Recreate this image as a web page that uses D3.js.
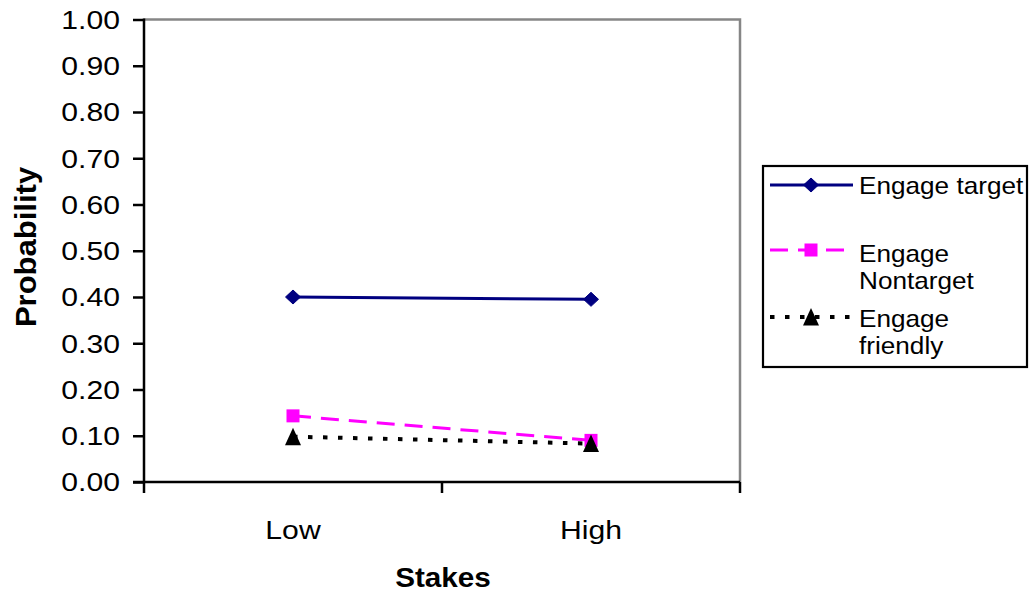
<!DOCTYPE html>
<html><head><meta charset="utf-8">
<script src="https://cdn.jsdelivr.net/npm/d3@7"></script>
<style>
html,body{margin:0;padding:0;background:#fff;}
svg{display:block;font-family:"Liberation Sans",Arial,sans-serif;}
</style></head>
<body>
<svg id="chart" width="1029" height="599"></svg>
<script>
const categories = ["Low", "High"];
const engageTarget = [0.40, 0.395];
const engageNontarget = [0.143, 0.090];
const engageFriendly = [0.098, 0.083];
const yTicks = [0,0.1,0.2,0.3,0.4,0.5,0.6,0.7,0.8,0.9,1.0];
const seriesNames = [["Engage target"], ["Engage", "Nontarget"], ["Engage", "friendly"]];

const svg = d3.select("#chart");
const L = 144, R = 740, T = 19.5, B = 482;
const x = d3.scalePoint().domain(categories).range([L, R]).padding(0.5);
const y = d3.scaleLinear().domain([0, 1]).range([B, T]);
const SX = 1.16;

// top/right frame (gray)
svg.append("path").attr("d", `M${L},${T}H${R}V${B}`).attr("fill","none")
  .attr("stroke","#868686").attr("stroke-width",2.5);

// Y axis
const yAxis = d3.axisLeft(y).tickValues(yTicks).tickFormat(d3.format(".2f")).tickSize(11).tickPadding(13);
const gy = svg.append("g").attr("transform", `translate(${L},0)`).call(yAxis);
gy.select(".domain").attr("stroke","#000").attr("stroke-width",2.5).attr("d", `M0,${T-1}V${B+1}`);
gy.selectAll(".tick line").attr("stroke","#000").attr("stroke-width",2.5);
gy.selectAll(".tick text").each(function(){
  const t = d3.select(this); const xx = +t.attr("x");
  t.attr("x",0).attr("dy","0.34em").attr("transform",`translate(${xx},0) scale(${SX},1)`)
   .attr("font-size",26).attr("font-family","Liberation Sans, Arial, sans-serif").attr("fill","#000");
});

// X axis
const step = x.step();
const gx = svg.append("g");
gx.append("line").attr("x1",L-11).attr("x2",R).attr("y1",B).attr("y2",B).attr("stroke","#000").attr("stroke-width",2.5);
const bounds = [x(categories[0]) - step/2].concat(categories.map(c => x(c) + step/2));
gx.selectAll(".xt").data(bounds).enter().append("line")
  .attr("x1",d=>d).attr("x2",d=>d).attr("y1",B).attr("y2",B+11).attr("stroke","#000").attr("stroke-width",2.5);
gx.selectAll(".xl").data(categories).enter().append("text")
  .attr("text-anchor","middle").attr("font-size",26)
  .attr("transform",d=>`translate(${x(d)},539) scale(${SX},1)`).text(d=>d);

// axis titles
svg.append("text").attr("text-anchor","middle").attr("font-size",27).attr("font-weight","bold")
  .attr("transform",`translate(443,587) scale(1.1,1)`).text("Stakes");
svg.append("text").attr("text-anchor","middle").attr("font-size",29).attr("font-weight","bold")
  .attr("transform",`translate(36,247) rotate(-90) scale(1.07,1)`).text("Probability");

// series
const series = [
  {vals: engageTarget, color:"#000080", dash:null, width:3, marker:"diamond"},
  {vals: engageNontarget, color:"#FF00FF", dash:"18,10", width:3, marker:"square"},
  {vals: engageFriendly, color:"#000000", dash:"4.5,10.5", width:4, marker:"triangle"}
];
const line = d3.line().x((d,i)=>x(categories[i])).y(d=>y(d));
function drawMarker(g, type, cx, cy, color){
  if(type==="diamond"){
    g.append("path").attr("d",`M${cx},${cy-7}L${cx+7.5},${cy}L${cx},${cy+7}L${cx-7.5},${cy}Z`).attr("fill",color).attr("stroke",color).attr("stroke-width",1);
  } else if(type==="square"){
    g.append("rect").attr("x",cx-6.5).attr("y",cy-6.5).attr("width",13).attr("height",13).attr("fill",color);
  } else {
    g.append("path").attr("d",`M${cx},${cy-9}L${cx+8},${cy+8.5}L${cx-8},${cy+8.5}Z`).attr("fill",color);
  }
}
const gs = svg.append("g");
series.forEach(s=>{
  gs.append("path").datum(s.vals).attr("d",line).attr("fill","none").attr("stroke",s.color)
    .attr("stroke-width",s.width).attr("stroke-dasharray",s.dash);
});
series.forEach(s=>{
  s.vals.forEach((v,i)=>drawMarker(gs, s.marker, x(categories[i]), y(v), s.color));
});

// legend
const lg = svg.append("g");
lg.append("rect").attr("x",763).attr("y",166).attr("width",264).attr("height",201)
  .attr("fill","#fff").attr("stroke","#000").attr("stroke-width",2.2);
const legY = [185, 250, 317];
const textY = [[194], [262, 289], [327, 354]];
series.forEach((s,i)=>{
  lg.append("line").attr("x1",770).attr("x2",853).attr("y1",legY[i]).attr("y2",legY[i])
    .attr("stroke",s.color).attr("stroke-width",s.width).attr("stroke-dasharray",s.dash);
  drawMarker(lg, s.marker, 811, legY[i], s.color);
  seriesNames[i].forEach((t,j)=>{
    lg.append("text").attr("font-size",24).attr("transform",`translate(859,${textY[i][j]}) scale(1.09,1)`).text(t);
  });
});
</script>
</body></html>
